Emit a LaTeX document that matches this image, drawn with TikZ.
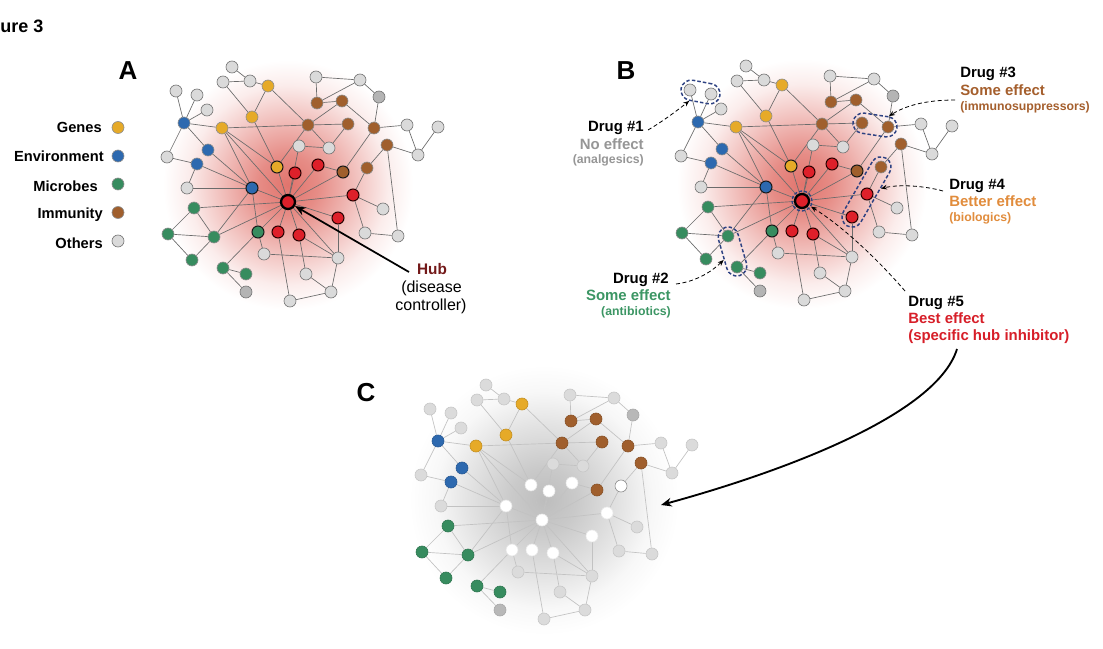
\documentclass[tikz,border=0pt]{standalone}
\usepackage{fontspec}
\setmainfont{Liberation Sans}
\usetikzlibrary{arrows.meta,calc}
\definecolor{cY}{RGB}{230,170,40}
\definecolor{cBl}{RGB}{45,105,175}
\definecolor{cG}{RGB}{55,140,95}
\definecolor{cBr}{RGB}{160,95,45}
\definecolor{cO}{RGB}{218,218,218}
\definecolor{cD}{RGB}{180,180,180}
\definecolor{cR}{RGB}{222,32,42}
\definecolor{cNavy}{RGB}{45,65,130}
\definecolor{glowc}{RGB}{215,70,60}
\definecolor{tGray}{RGB}{150,150,150}
\definecolor{tGreen}{RGB}{60,150,100}
\definecolor{tBrown}{RGB}{165,95,45}
\definecolor{tOrange}{RGB}{225,140,60}
\definecolor{tRed}{RGB}{215,30,40}
\definecolor{hubText}{RGB}{115,25,25}
\pgfdeclarelayer{glowl}
\pgfdeclarelayer{bg}
\pgfsetlayers{glowl,bg,main}
\pgfdeclareradialshading{redglow}{\pgfpoint{0bp}{0bp}}{color(0bp)=(glowc!75); color(6bp)=(glowc!62); color(14bp)=(glowc!32); color(20bp)=(glowc!10); color(25bp)=(white); color(50bp)=(white)}
\pgfdeclareradialshading{grayglow}{\pgfpoint{0bp}{0bp}}{color(0bp)=(black!26); color(6bp)=(black!21); color(14bp)=(black!11); color(20bp)=(black!3); color(25bp)=(white); color(50bp)=(white)}
\tikzset{
  nd/.style={circle, inner sep=0pt, minimum size=9pt, line width=0.45pt},
  A-O/.style={nd, fill=cO, draw=black!55},
  A-D/.style={nd, fill=cD, draw=black!55},
  A-Y/.style={nd, fill=cY, draw=black!45},
  A-Yk/.style={nd, fill=cY, draw=black!90, line width=0.75pt},
  A-Bl/.style={nd, fill=cBl, draw=black!45},
  A-Blk/.style={nd, fill=cBl, draw=black!90, line width=0.75pt},
  A-G/.style={nd, fill=cG, draw=black!45},
  A-Gk/.style={nd, fill=cG, draw=black!90, line width=0.75pt},
  A-Br/.style={nd, fill=cBr, draw=black!45},
  A-Brk/.style={nd, fill=cBr, draw=black!90, line width=0.75pt},
  A-Brw/.style={A-Br},
  A-R/.style={nd, fill=cR, draw=black!85!red, line width=0.75pt},
  A-hub/.style={nd, fill=cR, draw=black, line width=1.7pt, minimum size=10.5pt},
  A-e/.style={draw=black!58, line width=0.5pt},
  B-O/.style={A-O}, B-D/.style={A-D}, B-Y/.style={A-Y}, B-Yk/.style={A-Yk},
  B-Bl/.style={A-Bl}, B-Blk/.style={A-Blk}, B-G/.style={A-G}, B-Gk/.style={A-Gk},
  B-Br/.style={A-Br}, B-Brk/.style={A-Brk}, B-Brw/.style={A-Brw}, B-R/.style={A-R},
  B-hub/.style={A-hub}, B-e/.style={A-e},
  C-O/.style={nd, fill=black!14, draw=black!22},
  C-D/.style={nd, fill=black!28, draw=black!34},
  C-Y/.style={nd, fill=cY, draw=cY!85!black},
  C-Yk/.style={nd, fill=white, draw=black!10},
  C-Bl/.style={nd, fill=cBl, draw=cBl!85!black},
  C-Blk/.style={nd, fill=white, draw=black!10},
  C-G/.style={nd, fill=cG, draw=cG!85!black},
  C-Gk/.style={nd, fill=white, draw=black!10},
  C-Br/.style={nd, fill=cBr, draw=cBr!85!black},
  C-Brk/.style={C-Br},
  C-Brw/.style={nd, fill=white, draw=black!45},
  C-R/.style={nd, fill=white, draw=black!8},
  C-hub/.style={nd, fill=white, draw=black!8},
  C-e/.style={draw=black!24, line width=0.5pt},
  lbR/.style={anchor=base east, inner sep=0pt, font=\bfseries\fontsize{11.2}{13}\selectfont},
  lbL/.style={anchor=base west, inner sep=0pt, font=\bfseries\fontsize{11.2}{13}\selectfont},
  smR/.style={anchor=base east, inner sep=0pt, font=\bfseries\fontsize{9.2}{11}\selectfont},
  smL/.style={anchor=base west, inner sep=0pt, font=\bfseries\fontsize{9.2}{11}\selectfont},
  legt/.style={anchor=base east, inner sep=0pt, font=\bfseries\fontsize{11}{13}\selectfont},
  panel/.style={anchor=base, inner sep=0pt, font=\bfseries\fontsize{19.5}{22}\selectfont},
  capsule/.style={draw=cNavy, dashed, dash pattern=on 2.6pt off 1.6pt, line width=1.1pt, rounded corners=7.6pt, minimum height=15.2pt, inner sep=0pt},
  darr/.style={draw=black, densely dashed, line width=0.6pt, -{Stealth[length=4.5pt,width=3.6pt]}},
  bigarr/.style={draw=black, line width=1.4pt, -{Stealth[length=8pt,width=6.5pt]}}
}
\newcommand\drawnet[1]{%
 \node[#1-O] (#1g1) at (232,67) {};
 \node[#1-O] (#1g2) at (223,82) {};
 \node[#1-O] (#1g3) at (250,81) {};
 \node[#1-Y] (#1y1) at (268,86) {};
 \node[#1-O] (#1g4) at (316,77) {};
 \node[#1-O] (#1g5) at (360,80) {};
 \node[#1-D] (#1g6) at (379,97) {};
 \node[#1-Br] (#1b1) at (317,103) {};
 \node[#1-Br] (#1b2) at (342,101) {};
 \node[#1-Br] (#1b3) at (308,125) {};
 \node[#1-Br] (#1b4) at (348,124) {};
 \node[#1-Br] (#1b5) at (374,128) {};
 \node[#1-Br] (#1b6) at (387,145) {};
 \node[#1-O] (#1g7) at (407,125) {};
 \node[#1-O] (#1g8) at (438,127) {};
 \node[#1-O] (#1g9) at (418,155) {};
 \node[#1-O] (#1g10) at (299,146) {};
 \node[#1-O] (#1g11) at (329,148) {};
 \node[#1-O] (#1g12) at (176,91) {};
 \node[#1-O] (#1g13) at (197,95) {};
 \node[#1-O] (#1g14) at (207,110) {};
 \node[#1-Bl] (#1e1) at (184,123) {};
 \node[#1-Y] (#1y2) at (252,117) {};
 \node[#1-Y] (#1y3) at (222,128) {};
 \node[#1-Bl] (#1e2) at (208,150) {};
 \node[#1-Bl] (#1e3) at (197,164) {};
 \node[#1-O] (#1g15) at (167,157) {};
 \node[#1-O] (#1g16) at (187,188) {};
 \node[#1-Blk] (#1e4) at (252,188) {};
 \node[#1-Yk] (#1y4) at (277,167) {};
 \node[#1-R] (#1r1) at (295,173) {};
 \node[#1-R] (#1r2) at (318,165) {};
 \node[#1-Brk] (#1b7) at (343,172) {};
 \node[#1-Brw] (#1b8) at (367,168) {};
 \node[#1-hub] (#1hub) at (288,202) {};
 \node[#1-R] (#1r3) at (353,195) {};
 \node[#1-O] (#1g17) at (383,209) {};
 \node[#1-R] (#1r4) at (338,218) {};
 \node[#1-G] (#1m1) at (194,208) {};
 \node[#1-G] (#1m2) at (168,234) {};
 \node[#1-G] (#1m3) at (214,237) {};
 \node[#1-Gk] (#1m4) at (258,232) {};
 \node[#1-R] (#1r5) at (278,232) {};
 \node[#1-R] (#1r6) at (299,235) {};
 \node[#1-G] (#1m5) at (192,260) {};
 \node[#1-G] (#1m6) at (223,268) {};
 \node[#1-G] (#1m7) at (246,274) {};
 \node[#1-D] (#1g18) at (246,292) {};
 \node[#1-O] (#1g19) at (264,254) {};
 \node[#1-O] (#1g20) at (338,258) {};
 \node[#1-O] (#1g21) at (306,274) {};
 \node[#1-O] (#1g22) at (331,292) {};
 \node[#1-O] (#1g23) at (290,301) {};
 \node[#1-O] (#1g24) at (365,233) {};
 \node[#1-O] (#1g25) at (398,236) {};
 \begin{pgfonlayer}{bg}
 \foreach \a/\b in {g1/g3, g2/g3, g3/y1, g2/y2, y1/y2, y1/b3, g4/g5, g4/b1, g5/b1, g5/g6,
   b1/b2, g6/b5, b2/b3, b2/b5, b3/b4, y3/b3, y2/y4, y4/b3, b3/g11, g10/g11, b4/g11,
   b5/g7, b5/b7, b6/g9, b6/g25, b6/b8, g7/g9, g8/g9, g12/e1, g13/e1, g14/e1, e1/y3,
   e1/g15, e1/e2, g15/e3, e2/e4, e3/e4, e3/g16, y3/y4, y3/e4, y3/hub, g16/e4, e4/hub,
   y4/hub, r1/hub, r2/hub, b7/hub, r3/hub, r4/hub, r5/hub, r6/hub, m4/hub, m3/hub,
   m1/hub, hub/g20, g10/hub, r2/b7, b8/r3, r3/g17, r3/g24, r4/g20, g24/g25, m1/m2,
   m1/m3, m2/m3, m2/m5, m5/m3, m3/e4, m4/m6, m6/m7, m6/g18, e4/m4, g19/g20, m4/g19,
   r5/g23, r6/g21, r6/g20, g21/g22, g20/g22, g22/g23}
   {\draw[#1-e] (#1\a) -- (#1\b);}
 \end{pgfonlayer}
}
\begin{document}
\begin{tikzpicture}[x=0.75pt,y=-0.75pt]
\useasboundingbox (0,0) rectangle (1103,649);
\begin{pgfonlayer}{glowl}
  \fill[white] (0,0) rectangle (1103,649);
  \shade[shading=redglow] (288,185) circle (125);
  \shade[shading=redglow] (802,184) circle (125);
  \shade[shading=grayglow] (544,500) circle (135);
\end{pgfonlayer}

% title and panel letters
\node[anchor=base west, inner sep=0pt, font=\bfseries\fontsize{13.5}{15}\selectfont] (fig) at (0,33) {ure 3};
\node[panel] (pA) at (128,79.5) {A};
\node[panel] (pB) at (626,79.5) {B};
\node[panel] (pC) at (366,401) {C};

% legend
\node[legt] (lt1) at (102,133) {Genes};
\node[legt] (lt2) at (104,162) {Environment};
\node[legt] (lt3) at (98,191) {Microbes};
\node[legt] (lt4) at (103,219) {Immunity};
\node[legt] (lt5) at (103,248) {Others};
\node[A-Y] (lc1) at (118,127.5) {};
\node[A-Bl] (lc2) at (118,156) {};
\node[A-G] (lc3) at (118,184) {};
\node[A-Br] (lc4) at (118,212.5) {};
\node[A-O] (lc5) at (118,241) {};

% networks
\drawnet{A}
\begin{scope}[shift={(514,-1)}]
\drawnet{B}
\end{scope}
\begin{scope}[shift={(254,318)}]
\drawnet{C}
\end{scope}

% hub label panel A
\node[anchor=base, inner sep=0pt, font=\bfseries\fontsize{11.5}{13}\selectfont, text=hubText] (hubl1) at (432,274) {Hub};
\node[anchor=base, inner sep=0pt, font=\fontsize{12}{14}\selectfont] (hubl2) at (431.5,292) {(disease};
\node[anchor=base, inner sep=0pt, font=\fontsize{12}{14}\selectfont] (hubl3) at (431,310) {controller)};
\coordinate (hubarrS) at (409,272);
\draw[bigarr, line width=1.3pt] (hubarrS) -- (Ahub);

% panel B: capsules and hub ring
\node[capsule, rotate=-10.8, minimum width=29.5pt] (cap1) at (700.5,92) {};
\node[capsule, rotate=-73.8, minimum width=37.7pt] (cap2) at (732.5,251.5) {};
\node[capsule, rotate=-8.7, minimum width=33.2pt] (cap3) at (875,125) {};
\node[capsule, rotate=60, minimum width=58.5pt] (cap4) at (866.5,192) {};
\node[circle, draw=cNavy, dashed, dash pattern=on 2.4pt off 1.5pt, line width=1pt, minimum size=15pt, inner sep=0pt] (ring) at (Bhub) {};

% drug labels
\node[lbR] (d1a) at (644,132) {Drug \#1};
\node[lbR, text=tGray] (d1b) at (644,150) {No effect};
\node[smR, text=tGray] (d1c) at (644,164) {(analgesics)};

\node[lbR] (d2a) at (669,283) {Drug \#2};
\node[lbR, text=tGreen] (d2b) at (671,300) {Some effect};
\node[smR, text=tGreen] (d2c) at (671,315) {(antibiotics)};

\node[lbL] (d3a) at (960,78) {Drug \#3};
\node[lbL, text=tBrown] (d3b) at (960,96) {Some effect};
\node[smL, text=tBrown] (d3c) at (960,111) {(immunosuppressors)};

\node[lbL] (d4a) at (949,190) {Drug \#4};
\node[lbL, text=tOrange] (d4b) at (949,207) {Better effect};
\node[smL, text=tOrange] (d4c) at (949,221) {(biologics)};

\node[lbL] (d5a) at (908,306) {Drug \#5};
\node[lbL, text=tRed] (d5b) at (908,323) {Best effect};
\node[lbL, text=tRed] (d5c) at (908,340) {(specific hub inhibitor)};

% drug arrows
\coordinate (d1s) at (648,130);
\coordinate (d2s) at (676,284);
\coordinate (d3s) at (955,100);
\coordinate (d4s) at (943,191);
\coordinate (d5s) at (905,291);
\draw[darr] (d1s) .. controls (660,123) and (674,113) .. (cap1);
\draw[darr] (d2s) .. controls (692,282) and (708,275) .. (cap2);
\draw[darr] (d3s) .. controls (925,100) and (905,106) .. (cap3);
\draw[darr] (d4s) .. controls (925,186) and (900,184) .. (cap4);
\draw[darr] (d5s) .. controls (880,262) and (845,228) .. (ring);

% big arrow to panel C
\coordinate (bigS) at (957,349);
\coordinate (bigE) at (661,505);
\draw[bigarr] (bigS) .. controls (935,420) and (760,478) .. (bigE);
\end{tikzpicture}
\end{document}
